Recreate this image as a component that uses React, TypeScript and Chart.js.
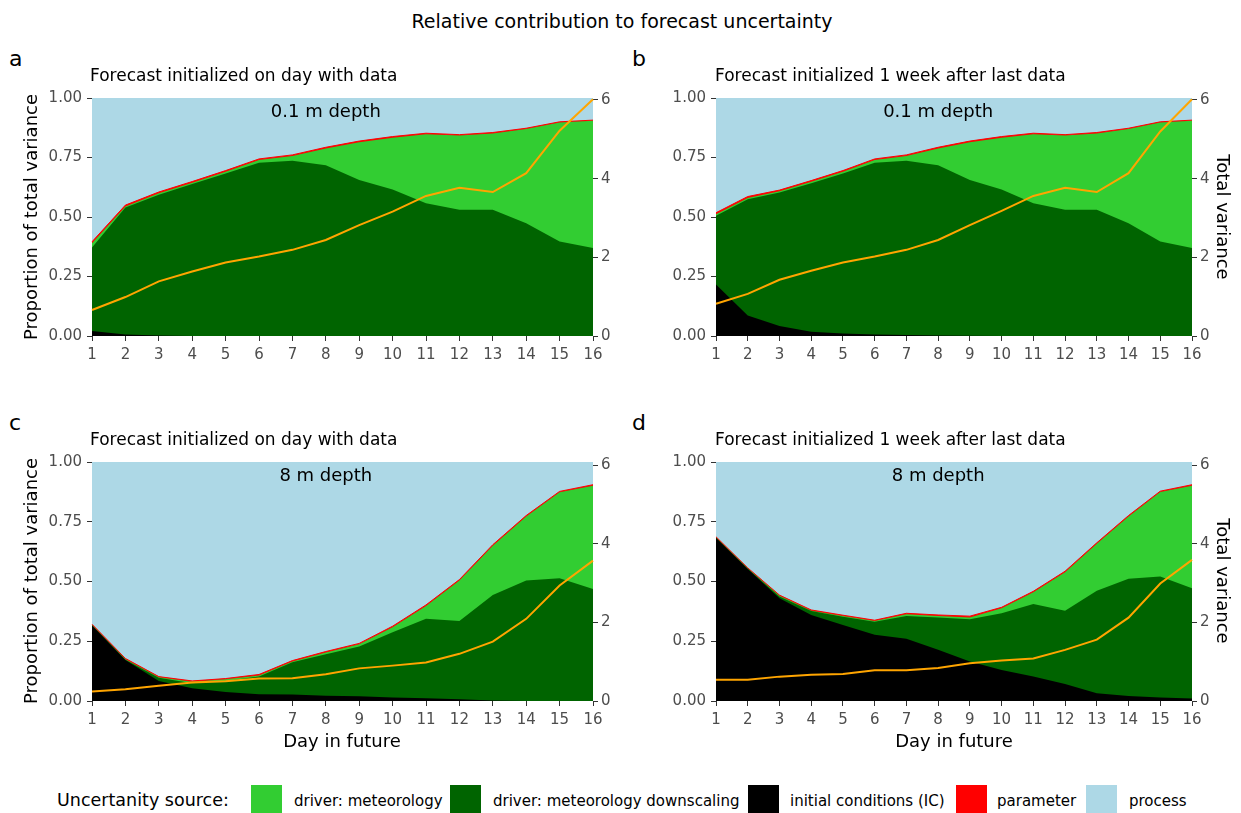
import React, { useEffect, useRef } from "react";
import { Chart, registerables } from "chart.js";

Chart.register(...registerables);

// ---------- data ----------
const DAYS = ["1", "2", "3", "4", "5", "6", "7", "8", "9", "10", "11", "12", "13", "14", "15", "16"];
const RIGHT_TICKS = [0, 2, 4, 6];

const SOURCE_LABELS = [
  "driver: meteorology",
  "driver: meteorology downscaling",
  "initial conditions (IC)",
  "parameter",
  "process",
];
const SOURCE_COLORS = ["#32CD32", "#006400", "#000000", "#FF0000", "#ADD8E6"];
const TOTAL_COLOR = "#FFA500";

// Panel a: 0.1 m depth, initialized on day with data
const IC_A = [0.021, 0.006, 0.002, 0, 0, 0, 0, 0, 0, 0, 0, 0, 0, 0, 0, 0];
const DS_A = [0.351, 0.534, 0.591, 0.639, 0.683, 0.728, 0.736, 0.717, 0.655, 0.616, 0.558, 0.53, 0.53, 0.474, 0.397, 0.37];
const MET_A = [0.018, 0.004, 0.007, 0.005, 0.007, 0.011, 0.02, 0.071, 0.159, 0.217, 0.29, 0.312, 0.321, 0.396, 0.5, 0.534];
const PAR_A = [0.006, 0.006, 0.005, 0.005, 0.005, 0.005, 0.005, 0.005, 0.005, 0.005, 0.004, 0.004, 0.004, 0.003, 0.003, 0.003];
const PROC_A = [0.604, 0.45, 0.395, 0.351, 0.305, 0.256, 0.239, 0.207, 0.181, 0.162, 0.148, 0.154, 0.145, 0.127, 0.1, 0.093];
const TV_A = [0.66, 0.99, 1.39, 1.64, 1.87, 2.02, 2.19, 2.44, 2.82, 3.16, 3.56, 3.77, 3.66, 4.14, 5.22, 6.02];

// Panel b: 0.1 m depth, initialized 1 week after last data
const IC_B = [0.216, 0.086, 0.042, 0.018, 0.011, 0.006, 0.004, 0.002, 0.001, 0, 0, 0, 0, 0, 0, 0];
const DS_B = [0.289, 0.489, 0.561, 0.624, 0.672, 0.722, 0.732, 0.715, 0.654, 0.616, 0.558, 0.53, 0.53, 0.474, 0.397, 0.37];
const MET_B = [0.007, 0.005, 0.005, 0.006, 0.007, 0.011, 0.02, 0.071, 0.159, 0.217, 0.29, 0.312, 0.321, 0.396, 0.5, 0.534];
const PAR_B = [0.006, 0.006, 0.005, 0.005, 0.005, 0.005, 0.005, 0.005, 0.005, 0.005, 0.004, 0.004, 0.004, 0.003, 0.003, 0.003];
const PROC_B = [0.482, 0.414, 0.387, 0.347, 0.305, 0.256, 0.239, 0.207, 0.181, 0.162, 0.148, 0.154, 0.145, 0.127, 0.1, 0.093];
const TV_B = [0.82, 1.07, 1.43, 1.66, 1.87, 2.02, 2.19, 2.44, 2.82, 3.18, 3.56, 3.77, 3.66, 4.14, 5.2, 6.02];

// Panel c: 8 m depth, initialized on day with data
const IC_C = [0.316, 0.172, 0.084, 0.053, 0.038, 0.028, 0.027, 0.022, 0.02, 0.015, 0.011, 0.007, 0.002, 0, 0, 0];
const DS_C = [0.001, 0.001, 0.013, 0.021, 0.046, 0.074, 0.135, 0.174, 0.208, 0.273, 0.333, 0.328, 0.442, 0.504, 0.514, 0.469];
const MET_C = [0.001, 0.002, 0.002, 0.007, 0.007, 0.005, 0.003, 0.007, 0.009, 0.021, 0.054, 0.169, 0.206, 0.268, 0.359, 0.432];
const PAR_C = [0.003, 0.003, 0.003, 0.003, 0.003, 0.004, 0.004, 0.004, 0.004, 0.004, 0.004, 0.004, 0.004, 0.004, 0.004, 0.004];
const PROC_C = [0.679, 0.822, 0.898, 0.916, 0.906, 0.889, 0.831, 0.793, 0.759, 0.687, 0.598, 0.492, 0.346, 0.224, 0.123, 0.095];
const TV_C = [0.24, 0.3, 0.39, 0.47, 0.5, 0.57, 0.58, 0.68, 0.83, 0.9, 0.98, 1.2, 1.51, 2.09, 2.94, 3.57];

// Panel d: 8 m depth, initialized 1 week after last data
const IC_D = [0.682, 0.552, 0.43, 0.36, 0.318, 0.277, 0.26, 0.214, 0.165, 0.13, 0.102, 0.071, 0.032, 0.021, 0.015, 0.01];
const DS_D = [0.001, 0.001, 0.007, 0.017, 0.035, 0.055, 0.096, 0.135, 0.177, 0.237, 0.304, 0.307, 0.429, 0.49, 0.506, 0.462];
const MET_D = [0.001, 0.001, 0.003, 0.001, 0.003, 0.003, 0.007, 0.007, 0.007, 0.021, 0.049, 0.161, 0.197, 0.261, 0.353, 0.429];
const PAR_D = [0.003, 0.003, 0.003, 0.003, 0.003, 0.003, 0.004, 0.004, 0.006, 0.004, 0.004, 0.004, 0.004, 0.004, 0.004, 0.004];
const PROC_D = [0.313, 0.443, 0.557, 0.619, 0.641, 0.662, 0.633, 0.64, 0.645, 0.608, 0.541, 0.457, 0.338, 0.224, 0.122, 0.095];
const TV_D = [0.54, 0.54, 0.62, 0.67, 0.69, 0.78, 0.78, 0.84, 0.96, 1.03, 1.08, 1.3, 1.56, 2.12, 2.99, 3.59];

const TITLE = "Relative contribution to forecast uncertainty";
const SUB_DATA = "Forecast initialized on day with data";
const SUB_WEEK = "Forecast initialized 1 week after last data";
const DEPTH_SHALLOW = "0.1 m depth";
const DEPTH_DEEP = "8 m depth";
const DEPTH_LABEL_DAY = "8";

// ---------- layout ----------
const FONT = "'DejaVu Sans', 'Liberation Sans', sans-serif";
const TICK_COLOR = "#4D4D4D";

type PanelDef = {
  left: number;
  top: number;
  width: number;
  height: number;
  padTop: number;
  plotH: number;
  yW: number;
  y2W: number;
  rightMax: number;
  depth: string;
  ic: number[];
  ds: number[];
  met: number[];
  par: number[];
  proc: number[];
  tv: number[];
};

const PANELS: PanelDef[] = [
  { left: 0, top: 80, width: 620, height: 300, padTop: 18, plotH: 238, yW: 92, y2W: 27, rightMax: 6.05, depth: DEPTH_SHALLOW, ic: IC_A, ds: DS_A, met: MET_A, par: PAR_A, proc: PROC_A, tv: TV_A },
  { left: 620, top: 80, width: 621, height: 300, padTop: 18, plotH: 238, yW: 96, y2W: 49, rightMax: 6.05, depth: DEPTH_SHALLOW, ic: IC_B, ds: DS_B, met: MET_B, par: PAR_B, proc: PROC_B, tv: TV_B },
  { left: 0, top: 445, width: 620, height: 300, padTop: 17, plotH: 239, yW: 92, y2W: 27, rightMax: 6.08, depth: DEPTH_DEEP, ic: IC_C, ds: DS_C, met: MET_C, par: PAR_C, proc: PROC_C, tv: TV_C },
  { left: 620, top: 445, width: 621, height: 300, padTop: 17, plotH: 239, yW: 96, y2W: 49, rightMax: 6.08, depth: DEPTH_DEEP, ic: IC_D, ds: DS_D, met: MET_D, par: PAR_D, proc: PROC_D, tv: TV_D },
];

function Panel({ p }: { p: PanelDef }) {
  const ref = useRef<HTMLCanvasElement | null>(null);
  useEffect(() => {
    if (!ref.current) return;
    const depthPlugin = {
      id: "depthLabel",
      afterDatasetsDraw(chart: any) {
        const ctx = chart.ctx;
        const xs = chart.scales.x;
        const x = xs.getPixelForValue(DAYS.indexOf(DEPTH_LABEL_DAY));
        ctx.save();
        ctx.font = `18px ${FONT}`;
        ctx.fillStyle = "#000000";
        ctx.textAlign = "center";
        ctx.textBaseline = "alphabetic";
        ctx.fillText(p.depth, x, chart.chartArea.top + 19);
        ctx.restore();
      },
    };
    const tickFont = { family: FONT, size: 15 };
    const area = (label: string, data: number[], color: string, extra: any = {}) => ({
      label,
      data,
      backgroundColor: color,
      borderColor: color,
      borderWidth: 0,
      fill: "origin",
      pointRadius: 0,
      tension: 0,
      yAxisID: "y",
      ...extra,
    });
    const chart = new Chart(ref.current, {
      type: "line",
      data: {
        labels: DAYS,
        datasets: [
          area(SOURCE_LABELS[2], p.ic, SOURCE_COLORS[2]),
          area(SOURCE_LABELS[1], p.ds, SOURCE_COLORS[1]),
          area(SOURCE_LABELS[0], p.met, SOURCE_COLORS[0]),
          area(SOURCE_LABELS[3], p.par, SOURCE_COLORS[3], { borderWidth: 1 }),
          area(SOURCE_LABELS[4], p.proc, SOURCE_COLORS[4]),
          {
            label: "Total variance",
            data: p.tv,
            yAxisID: "y2",
            borderColor: TOTAL_COLOR,
            backgroundColor: TOTAL_COLOR,
            borderWidth: 2,
            fill: false,
            pointRadius: 0,
            tension: 0,
            order: -1,
          },
        ],
      },
      options: {
        responsive: false,
        animation: false,
        events: [],
        layout: { padding: { top: p.padTop, left: 0, right: 0, bottom: 0 } },
        plugins: {
          legend: { display: false },
          tooltip: { enabled: false },
          title: { display: false },
        },
        scales: {
          x: {
            type: "category",
            offset: false,
            grid: { drawOnChartArea: false, drawTicks: true, tickLength: 5, color: "#333333" },
            border: { display: false },
            ticks: { font: tickFont, color: TICK_COLOR, padding: 5, maxRotation: 0, autoSkip: false },
            afterFit: (s: any) => {
              s.height = p.height - p.padTop - p.plotH;
            },
          },
          y: {
            stacked: true,
            min: 0,
            max: 1,
            grid: { drawOnChartArea: false, drawTicks: true, tickLength: 5, color: "#333333" },
            border: { display: false },
            ticks: {
              stepSize: 0.25,
              font: tickFont,
              color: TICK_COLOR,
              padding: 5,
              callback: (v: any) => Number(v).toFixed(2),
            },
            afterFit: (s: any) => {
              s.width = p.yW;
            },
          },
          y2: {
            position: "right",
            stacked: false,
            min: 0,
            max: p.rightMax,
            grid: { drawOnChartArea: false, drawTicks: true, tickLength: 5, color: "#333333" },
            border: { display: false },
            ticks: { font: tickFont, color: TICK_COLOR, padding: 3, callback: (v: any) => String(v) },
            afterBuildTicks: (s: any) => {
              s.ticks = RIGHT_TICKS.map((v) => ({ value: v }));
            },
            afterFit: (s: any) => {
              s.width = p.y2W;
            },
          },
        },
      } as any,
      plugins: [depthPlugin],
    });
    return () => chart.destroy();
  }, [p]);
  return (
    <canvas
      ref={ref}
      width={p.width}
      height={p.height}
      style={{ position: "absolute", left: p.left, top: p.top, width: p.width, height: p.height }}
    />
  );
}

function Txt({ x, y, size, text, center, color }: { x: number; y: number; size: number; text: string; center?: boolean; color?: string }) {
  return (
    <div
      style={{
        position: "absolute",
        left: x,
        top: y,
        fontSize: size,
        lineHeight: 1,
        fontFamily: FONT,
        whiteSpace: "nowrap",
        color: color || "#000000",
        transform: center ? "translateX(-50%)" : undefined,
      }}
    >
      {text}
    </div>
  );
}

function VTxt({ cx, cy, size, text, angle }: { cx: number; cy: number; size: number; text: string; angle: number }) {
  return (
    <div
      style={{
        position: "absolute",
        left: cx,
        top: cy,
        fontSize: size,
        lineHeight: 1,
        fontFamily: FONT,
        whiteSpace: "nowrap",
        color: "#000000",
        transform: `translate(-50%, -50%) rotate(${angle}deg)`,
      }}
    >
      {text}
    </div>
  );
}

const LEGEND_ITEMS = [
  { sw: 251, lx: 294 },
  { sw: 450, lx: 493 },
  { sw: 748, lx: 790 },
  { sw: 956, lx: 997 },
  { sw: 1086, lx: 1129 },
];

export default function App() {
  return (
    <div
      style={{
        position: "absolute",
        left: 0,
        top: 0,
        width: 1241,
        height: 813,
        overflow: "hidden",
        background: "#FFFFFF",
        fontFamily: FONT,
      }}
    >
      {PANELS.map((p, i) => (
        <Panel key={i} p={p} />
      ))}

      <Txt x={622} y={12} size={19} text={TITLE} center />

      <Txt x={9} y={48} size={22} text="a" />
      <Txt x={632} y={48} size={22} text="b" />
      <Txt x={9} y={412} size={22} text="c" />
      <Txt x={632} y={412} size={22} text="d" />

      <Txt x={90} y={67} size={17} text={SUB_DATA} />
      <Txt x={715} y={67} size={17} text={SUB_WEEK} />
      <Txt x={90} y={431} size={17} text={SUB_DATA} />
      <Txt x={715} y={431} size={17} text={SUB_WEEK} />

      <VTxt cx={31} cy={217} size={18} text="Proportion of total variance" angle={-90} />
      <VTxt cx={31} cy={581} size={18} text="Proportion of total variance" angle={-90} />
      <VTxt cx={1223} cy={217} size={18} text="Total variance" angle={90} />
      <VTxt cx={1223} cy={581} size={18} text="Total variance" angle={90} />

      <Txt x={342} y={732} size={18} text="Day in future" center />
      <Txt x={954} y={732} size={18} text="Day in future" center />

      <Txt x={57} y={792} size={17.5} text="Uncertanity source:" />
      {LEGEND_ITEMS.map((it, i) => (
        <React.Fragment key={i}>
          <div
            style={{
              position: "absolute",
              left: it.sw,
              top: 785,
              width: 31,
              height: 28,
              background: SOURCE_COLORS[i],
            }}
          />
          <Txt x={it.lx} y={794} size={15} text={SOURCE_LABELS[i]} />
        </React.Fragment>
      ))}
    </div>
  );
}
